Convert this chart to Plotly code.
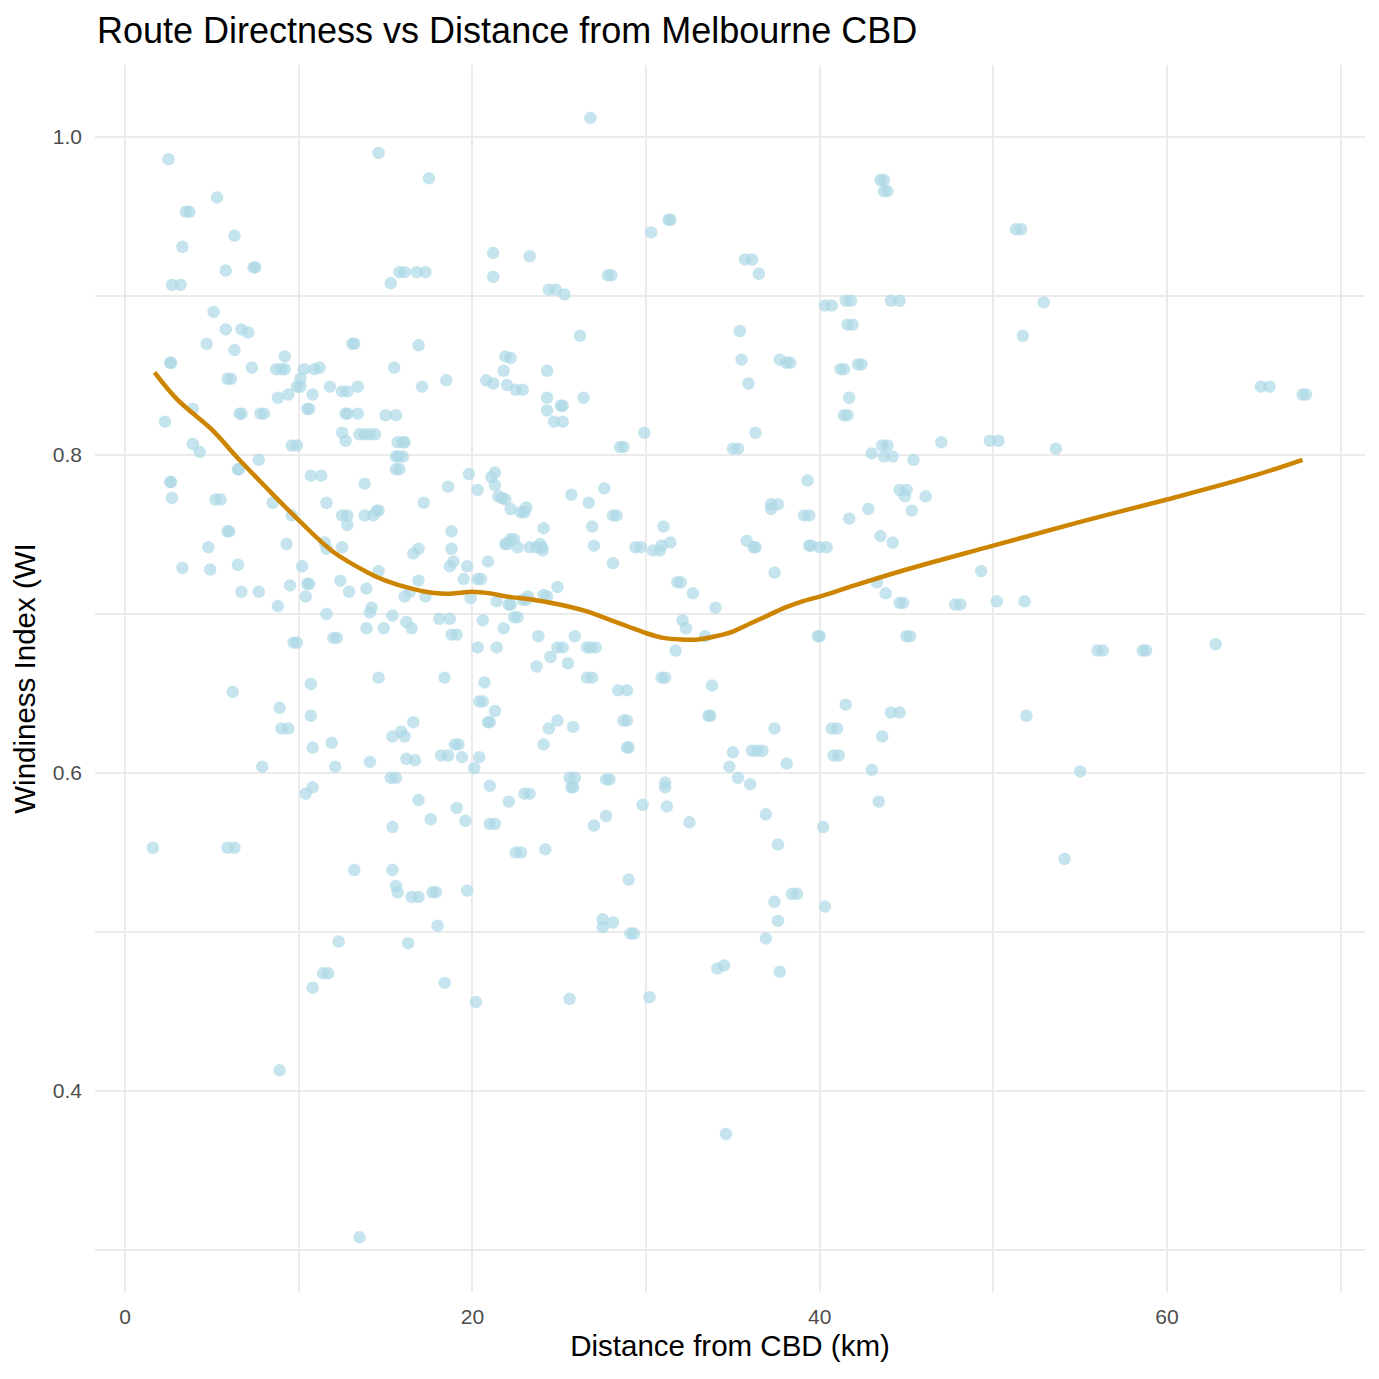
import plotly.graph_objects as go

# Distance from CBD (km) and Windiness Index
distance_km = [
    1.6, 2.3, 2.5, 2.6, 2.65, 2.6, 2.65, 2.7, 2.7, 3.2, 3.3, 3.3, 3.5, 3.7, 3.9, 3.9, 4.3,
    4.7, 4.8, 4.9, 5.1, 5.2, 5.5, 5.3, 5.8, 5.8, 5.9, 6.1, 5.9, 6.0, 5.9, 6.3, 6.2, 6.3,
    6.3, 6.5, 6.55, 6.5, 6.6, 6.7, 6.7, 6.7, 7.1, 7.3, 7.4, 7.5, 7.7, 7.8, 8.0, 7.7, 7.9,
    8.5, 8.7, 9.0, 9.2, 8.8, 8.8, 8.9, 9.0, 9.4, 8.9, 9.3, 9.2, 9.4, 9.6, 9.5, 9.6, 9.9,
    9.7, 9.9, 9.9, 10.1, 10.1, 10.2, 10.3, 10.4, 10.4, 10.5, 10.6, 10.5, 10.6, 10.7, 10.7,
    10.7, 10.8, 10.8, 10.8, 10.8, 10.9, 11.2,
    11.3, 11.5, 11.6, 11.6, 11.6, 11.4, 11.7, 11.8, 11.9, 12.0, 12.2, 12.1, 12.3, 12.4,
    12.5, 12.8, 12.5, 12.5, 12.8, 12.5, 12.7, 12.8, 12.7, 12.8, 12.9, 13.1, 13.2, 13.2,
    13.4, 13.4, 13.5, 13.8, 13.5, 13.8, 13.8, 13.9, 13.9, 14.1, 14.1, 14.2, 14.1, 14.4,
    14.3, 14.5, 14.6, 14.6, 14.6, 14.6, 14.9, 15.0, 15.3, 15.6, 15.3, 15.4, 15.4, 15.4,
    15.4, 15.5, 15.6, 15.6, 15.75, 15.6, 15.8, 15.6, 15.7, 15.7, 16.0, 16.1, 15.8, 16.1,
    15.9, 16.0, 16.1, 16.1, 16.2, 16.2, 16.3, 16.4, 16.5, 16.5, 16.9, 16.6, 16.6, 16.7,
    16.8, 17.3, 16.9, 16.9, 16.9, 16.9, 17.1, 17.2, 17.3, 17.5, 17.6, 17.7, 17.9, 18.0,
    18.1, 18.2, 18.6, 18.4, 18.4, 18.5, 18.6, 18.7, 18.7, 18.8, 18.8, 18.8, 19.1, 18.9,
    19.0, 19.2, 19.1, 19.4, 19.5, 19.6, 19.7, 19.7, 19.8, 19.9, 20.1, 20.2, 20.3, 20.3,
    20.3, 20.5, 20.4, 20.6, 20.4, 20.6, 20.7, 20.8, 20.9, 20.9, 21.0, 21.0, 21.0, 21.3,
    21.1, 21.2, 21.2, 21.2, 21.3, 21.3, 21.3, 21.4, 21.4, 21.5, 21.7, 21.8, 21.8, 21.9,
    22.0, 21.9, 21.9, 22.2, 22.0, 22.1, 22.2, 22.1, 22.2, 22.2, 22.4, 22.4, 22.6, 22.5,
    22.9, 22.5, 22.8, 22.6, 22.8, 23.0, 22.9, 23.1, 23.0, 23.3, 23.1, 23.2, 23.3, 23.3,
    23.7, 23.7, 23.8, 23.9, 24.0, 24.05, 24.1, 24.1, 24.1, 24.3, 24.2, 24.3, 24.3, 24.3,
    24.4, 24.4, 24.8, 24.5, 24.7, 25.2, 24.9, 24.9, 24.9, 25.1, 25.2, 25.2, 25.3, 25.5,
    25.6, 25.6, 25.9, 25.7, 25.7, 25.8, 25.8, 25.9, 26.2, 26.4, 26.6, 26.8, 26.6, 26.9,
    26.7, 26.8, 26.9, 27.0, 27.0, 27.1, 27.5, 27.5, 27.6, 27.7, 27.7, 27.9, 27.8, 28.0,
    28.1, 28.1, 28.3, 28.1, 28.4, 28.9, 28.5, 28.7, 28.7, 28.9, 28.9, 29.0, 29.0, 29.1,
    29.3, 29.4, 29.7, 29.8, 29.9, 30.2, 30.3, 30.4, 30.8, 30.9, 31.1, 30.9, 31.0, 31.1,
    31.1, 31.3, 31.4, 31.2, 31.4, 31.7, 31.8, 32.0, 32.1, 32.3, 32.5, 32.7,
    33.4, 33.6, 33.7, 33.8, 34.0, 34.1, 34.5, 34.6, 34.8, 35.0, 35.0, 35.3, 35.3, 35.4,
    35.5, 35.7, 36.1, 35.8, 35.9, 36.0, 36.1, 36.4, 36.2, 36.3, 36.3, 36.5, 36.7, 36.9,
    36.9, 37.2, 37.6, 37.2, 37.4, 37.4, 37.4, 37.6, 37.6, 37.7, 37.7, 38.1, 38.3, 38.1,
    38.4, 38.7, 39.1, 39.4, 39.3, 39.4, 39.5, 39.9, 40.0, 40.0, 40.4, 40.2, 40.3, 40.7,
    40.3, 40.7, 41.0, 40.8, 41.1, 41.2, 41.4, 41.4, 41.6, 41.5, 41.8, 41.5, 41.6, 41.9,
    41.7, 41.7, 42.2, 42.4, 42.8, 43.0, 43.0, 43.3, 43.4, 43.5, 43.5, 43.7, 43.7, 43.9,
    43.6, 43.9, 43.6, 43.7, 44.2, 43.8, 44.1, 44.6, 44.1, 44.6, 44.2, 44.6, 44.8, 44.6,
    45.0, 44.9, 45.0, 45.2, 45.3, 45.4, 46.1, 47.0, 47.8, 48.1, 49.3, 49.8, 50.3, 50.2,
    51.3, 51.6, 51.7, 51.8, 51.9, 52.9, 53.6, 54.1, 55.0, 56.0, 56.3, 58.6, 58.8, 62.8,
    65.4, 65.9, 67.8, 68.0,
]
windiness = [
    0.553, 0.821, 0.986, 0.858, 0.858, 0.783, 0.783, 0.773, 0.907, 0.907, 0.931, 0.729, 0.953, 0.953, 0.829, 0.807, 0.802,
    0.870, 0.742, 0.728, 0.890, 0.772, 0.772, 0.962, 0.916, 0.879, 0.848, 0.848, 0.752, 0.752, 0.553, 0.553, 0.651, 0.866,
    0.938, 0.791, 0.791, 0.731, 0.826, 0.826, 0.714, 0.879, 0.877, 0.855, 0.918, 0.918, 0.797, 0.826, 0.826, 0.714, 0.604,
    0.770, 0.854, 0.854, 0.854, 0.836, 0.705, 0.641, 0.628, 0.628, 0.413, 0.744, 0.862, 0.838, 0.762, 0.718, 0.806, 0.806,
    0.682, 0.682, 0.843, 0.843, 0.848, 0.730, 0.854, 0.711, 0.587, 0.829, 0.829, 0.719, 0.719, 0.656, 0.636,
    0.787, 0.591, 0.465, 0.616, 0.838, 0.854, 0.855,
    0.787, 0.745, 0.770, 0.741, 0.700, 0.474, 0.474, 0.843, 0.619, 0.685, 0.685, 0.604, 0.494, 0.721,
    0.840, 0.840, 0.814, 0.762, 0.762, 0.742, 0.826, 0.826, 0.809, 0.756, 0.714, 0.870, 0.870, 0.539,
    0.843, 0.826, 0.813, 0.813, 0.308, 0.782, 0.762, 0.716, 0.691, 0.607, 0.701, 0.704, 0.813, 0.813,
    0.762, 0.765, 0.990, 0.727, 0.660, 0.765, 0.691, 0.825, 0.597, 0.597, 0.908, 0.699, 0.623, 0.566,
    0.539, 0.855, 0.825, 0.799, 0.799, 0.791, 0.791, 0.529, 0.525, 0.808, 0.808, 0.808, 0.915, 0.915,
    0.626, 0.799, 0.623, 0.711, 0.695, 0.609, 0.493, 0.714, 0.691, 0.522, 0.522, 0.632, 0.738, 0.608,
    0.915, 0.915, 0.869, 0.741, 0.721, 0.583, 0.843, 0.770, 0.711, 0.974, 0.571, 0.525, 0.525, 0.504,
    0.697, 0.611, 0.611, 0.660, 0.468, 0.847, 0.780, 0.697, 0.730, 0.741, 0.752, 0.687, 0.687, 0.733,
    0.618, 0.618, 0.578, 0.610, 0.722, 0.570, 0.730, 0.526, 0.788, 0.710, 0.603, 0.456, 0.778, 0.679,
    0.722, 0.722, 0.645, 0.645, 0.610, 0.696, 0.657, 0.847, 0.733, 0.632, 0.632, 0.592, 0.568, 0.568,
    0.786, 0.845, 0.927, 0.912, 0.639, 0.781, 0.789, 0.708, 0.679, 0.774, 0.773, 0.853, 0.691, 0.744,
    0.744, 0.772, 0.862, 0.861, 0.844, 0.706, 0.706, 0.582, 0.766, 0.747, 0.747, 0.698, 0.698, 0.841,
    0.841, 0.550, 0.550, 0.742, 0.764, 0.764, 0.709, 0.709, 0.587, 0.587, 0.767, 0.711, 0.925, 0.742,
    0.742, 0.667, 0.686, 0.744, 0.742, 0.740, 0.754, 0.618, 0.712, 0.711, 0.552, 0.853, 0.828, 0.836,
    0.628, 0.904, 0.904, 0.673, 0.821, 0.821, 0.717, 0.679, 0.633, 0.831, 0.831, 0.679, 0.901, 0.669,
    0.458, 0.597, 0.597, 0.775, 0.591, 0.591, 0.629, 0.686, 0.875, 0.836, 0.679, 0.679, 0.660, 0.660,
    0.770, 1.012, 0.755, 0.743, 0.567, 0.679, 0.508, 0.503, 0.779, 0.573, 0.596, 0.596, 0.913, 0.913,
    0.732, 0.762, 0.762, 0.506, 0.652, 0.652, 0.805, 0.805, 0.633, 0.633, 0.616, 0.616, 0.533, 0.499,
    0.499, 0.742, 0.742, 0.580, 0.814, 0.459, 0.940, 0.740, 0.740, 0.660, 0.660, 0.743, 0.755, 0.594,
    0.591, 0.948, 0.948, 0.579, 0.745, 0.677, 0.720, 0.720, 0.696, 0.691, 0.569, 0.713,
    0.686, 0.636, 0.636, 0.655, 0.704, 0.477, 0.479, 0.373, 0.604, 0.613, 0.804, 0.804, 0.597, 0.878,
    0.860, 0.923, 0.923, 0.746, 0.845, 0.593, 0.614, 0.614, 0.742, 0.742, 0.814, 0.914, 0.614, 0.496,
    0.574, 0.769, 0.769, 0.766, 0.726, 0.628, 0.519, 0.507, 0.555, 0.475, 0.860, 0.858, 0.858, 0.606,
    0.524, 0.524, 0.762, 0.762, 0.784, 0.743, 0.743, 0.686, 0.686, 0.742, 0.742, 0.566, 0.894, 0.894,
    0.516, 0.628, 0.628, 0.611, 0.611, 0.854, 0.854, 0.825, 0.825, 0.897, 0.897, 0.643, 0.882, 0.882,
    0.836, 0.760, 0.857, 0.857, 0.766, 0.602, 0.801, 0.720, 0.582, 0.749, 0.973, 0.973, 0.966, 0.966,
    0.806, 0.806, 0.623, 0.799, 0.799, 0.713, 0.897, 0.897, 0.638, 0.638, 0.745, 0.707, 0.707, 0.778,
    0.778, 0.774, 0.686, 0.686, 0.765, 0.797, 0.774, 0.808, 0.706, 0.706, 0.727, 0.809, 0.809, 0.708,
    0.942, 0.942, 0.875, 0.708, 0.636, 0.896, 0.804, 0.546, 0.601, 0.677, 0.677, 0.677, 0.677, 0.681,
    0.843, 0.843, 0.838, 0.838,
]

# Smoothed (loess) trend
smooth_x = [1.7, 3, 5, 6.5, 8, 10, 12, 14, 15, 16.5, 18, 19, 20, 21, 22, 23.5, 25, 26.5,
            28, 29, 30, 31, 32, 33, 34, 35, 36, 37, 38, 39, 40, 42, 45, 50, 55, 60, 65, 67.8]
smooth_y = [0.852, 0.835, 0.816, 0.798, 0.781, 0.759, 0.739, 0.726, 0.721, 0.716, 0.713,
            0.713, 0.714, 0.713, 0.711, 0.709, 0.706, 0.702, 0.696, 0.692, 0.688, 0.685,
            0.684, 0.684, 0.686, 0.689, 0.694, 0.699, 0.704, 0.708, 0.711, 0.718, 0.728,
            0.743, 0.758, 0.772, 0.787, 0.797]

x_ticks = [0, 20, 40, 60]
y_ticks = [0.4, 0.6, 0.8, 1.0]

fig = go.Figure()
fig.add_trace(go.Scatter(
    x=distance_km, y=windiness, mode="markers",
    marker=dict(color="#ADD8E6", size=12.5, opacity=0.7, line=dict(width=0)),
    hoverinfo="skip", showlegend=False,
))
fig.add_trace(go.Scatter(
    x=smooth_x, y=smooth_y, mode="lines", line=dict(color="#CD8500", width=4.5, shape="spline"),
    hoverinfo="skip", showlegend=False,
))

grid_col = "#EBEBEB"
fig.update_layout(
    width=1379, height=1379,
    paper_bgcolor="white", plot_bgcolor="white",
    margin=dict(l=87, r=22, t=57, b=95, autoexpand=False),
    font=dict(family="Liberation Sans, Arial, sans-serif", color="#000000"),
    title=dict(text="Route Directness vs Distance from Melbourne CBD",
               x=89 / 1379, xanchor="left", y=1 - 22 / 1379, yanchor="middle",
               font=dict(size=36, color="#000000")),
    xaxis=dict(
        range=[-1.73, 71.4], tickvals=x_ticks, ticktext=[str(v) for v in x_ticks],
        showgrid=True, gridcolor=grid_col, gridwidth=2.2, zeroline=False,
        showline=False, ticks="", ticklabelstandoff=10, tickfont=dict(size=21, color="#4D4D4D"),
        minor=dict(tickvals=[10, 30, 50, 70], showgrid=True, gridcolor=grid_col, gridwidth=1.5, ticks=""),
        title=dict(text="Distance from CBD (km)", font=dict(size=29.5, color="#000000"), standoff=8),
        automargin=False,
    ),
    yaxis=dict(
        range=[0.2736, 1.0453], tickvals=y_ticks, ticktext=["0.4", "0.6", "0.8", "1.0"],
        showgrid=True, gridcolor=grid_col, gridwidth=2.2, zeroline=False,
        showline=False, ticks="", ticklabelstandoff=12, tickfont=dict(size=21, color="#4D4D4D"),
        minor=dict(tickvals=[0.3, 0.5, 0.7, 0.9], showgrid=True, gridcolor=grid_col, gridwidth=1.5, ticks=""),
        title=dict(text="Windiness Index (WI", font=dict(size=29.5, color="#000000"), standoff=10),
        automargin=False,
    ),
)

fig.write_html("out.html")
